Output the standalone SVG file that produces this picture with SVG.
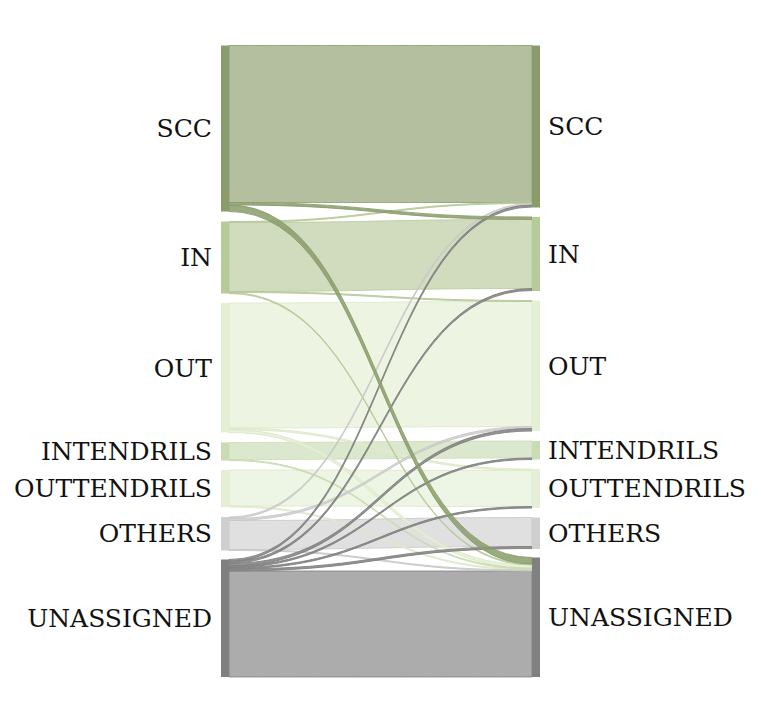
<svg xmlns="http://www.w3.org/2000/svg" width="761" height="723" viewBox="0 0 761 723">
<style>
.lk{fill-opacity:.65;stroke-opacity:.8;stroke-width:1}
.th{fill-opacity:.85;stroke-opacity:.9}
.c-scc{fill:#8a9c6b;stroke:#8a9c6b}
.c-in{fill:#b7ca9a;stroke:#b7ca9a}
.c-out{fill:#e4efd3;stroke:#dbe9c8}
.c-itd{fill:#cadcb3;stroke:#cadcb3}
.c-otd{fill:#e4efd5;stroke:#dbe9c8}
.c-oth{fill:#cfcfcf;stroke:#c8c8c8}
.c-un{fill:#808080;stroke:#808080}
.bar{stroke:none}
.lbl{font-family:"DejaVu Serif","Liberation Serif",serif;font-size:25px;fill:#111}
.l{text-anchor:end}
</style>
<rect width="761" height="723" fill="#fff"/>
<g id="connectors">
<path class="lk c-scc" d="M229,45.5 C380.5,45.5 380.5,45.5 532,45.5 L532,202.5 C380.5,202.5 380.5,202.5 229,202.5 Z"/>
<path class="lk c-in" d="M229,222.5 C380.5,222.5 380.5,219.5 532,219.5 L532,288.5 C380.5,288.5 380.5,291.5 229,291.5 Z"/>
<path class="lk c-out" d="M229,303 C380.5,303 380.5,301.5 532,301.5 L532,426.5 C380.5,426.5 380.5,428 229,428 Z"/>
<path class="lk c-itd" d="M229,442.5 C380.5,442.5 380.5,441 532,441 L532,458 C380.5,458 380.5,459.5 229,459.5 Z"/>
<path class="lk c-otd" d="M229,470 C380.5,470 380.5,470.5 532,470.5 L532,506.5 C380.5,506.5 380.5,506 229,506 Z"/>
<path class="lk c-oth" d="M229,520.5 C380.5,520.5 380.5,517.5 532,517.5 L532,546.5 C380.5,546.5 380.5,549.5 229,549.5 Z"/>
<path class="lk c-un" d="M229,571 C380.5,571 380.5,571 532,571 L532,677 C380.5,677 380.5,677 229,677 Z"/>
<path class="lk th c-out" d="M229,428 C380.5,428 380.5,469 532,469 L532,470.5 C380.5,470.5 380.5,429.5 229,429.5 Z"/>
<path class="lk th c-out" d="M229,429.5 C380.5,429.5 380.5,565 532,565 L532,568 C380.5,568 380.5,432.5 229,432.5 Z"/>
<path class="lk th c-otd" d="M229,506 C380.5,506 380.5,569 532,569 L532,570 C380.5,570 380.5,507 229,507 Z"/>
<path class="lk th c-itd" d="M229,459.5 C380.5,459.5 380.5,568 532,568 L532,569 C380.5,569 380.5,460.5 229,460.5 Z"/>
<path class="lk th c-in" d="M229,221.5 C380.5,221.5 380.5,202.5 532,202.5 L532,203.5 C380.5,203.5 380.5,222.5 229,222.5 Z"/>
<path class="lk th c-in" d="M229,291.5 C380.5,291.5 380.5,300.5 532,300.5 L532,301.5 C380.5,301.5 380.5,292.5 229,292.5 Z"/>
<path class="lk th c-in" d="M229,292.5 C380.5,292.5 380.5,564 532,564 L532,565 C380.5,565 380.5,293.5 229,293.5 Z"/>
<path class="lk th c-oth" d="M229,517 C380.5,517 380.5,203.5 532,203.5 L532,205 C380.5,205 380.5,518.5 229,518.5 Z"/>
<path class="lk th c-oth" d="M229,518.5 C380.5,518.5 380.5,426.5 532,426.5 L532,428.5 C380.5,428.5 380.5,520.5 229,520.5 Z"/>
<path class="lk th c-oth" d="M229,549.5 C380.5,549.5 380.5,570 532,570 L532,571 C380.5,571 380.5,550.5 229,550.5 Z"/>
<path class="lk th c-un" d="M229,559.5 C380.5,559.5 380.5,205 532,205 L532,207 C380.5,207 380.5,561.5 229,561.5 Z"/>
<path class="lk th c-un" d="M229,561.5 C380.5,561.5 380.5,288.5 532,288.5 L532,290.5 C380.5,290.5 380.5,563.5 229,563.5 Z"/>
<path class="lk th c-un" d="M229,563.5 C380.5,563.5 380.5,428.5 532,428.5 L532,431 C380.5,431 380.5,566 229,566 Z"/>
<path class="lk th c-un" d="M229,566 C380.5,566 380.5,458 532,458 L532,459.5 C380.5,459.5 380.5,567.5 229,567.5 Z"/>
<path class="lk th c-un" d="M229,567.5 C380.5,567.5 380.5,506.5 532,506.5 L532,508 C380.5,508 380.5,569 229,569 Z"/>
<path class="lk th c-un" d="M229,569 C380.5,569 380.5,546.5 532,546.5 L532,548.5 C380.5,548.5 380.5,571 229,571 Z"/>
<path class="lk th c-scc" d="M229,202.5 C380.5,202.5 380.5,217 532,217 L532,219.5 C380.5,219.5 380.5,205 229,205 Z"/>
<path class="lk th c-scc" d="M229,205 C380.5,205 380.5,557.5 532,557.5 L532,564 C380.5,564 380.5,211.5 229,211.5 Z"/>
</g>
<g id="node-src-scc"><rect class="bar c-scc" x="221" y="45.5" width="8" height="166"/><text class="lbl l" x="212" y="137">SCC</text></g>
<g id="node-src-in"><rect class="bar c-in" x="221" y="221.5" width="8" height="72"/><text class="lbl l" x="212" y="266">IN</text></g>
<g id="node-src-out"><rect class="bar c-out" x="221" y="303" width="8" height="129.5"/><text class="lbl l" x="212" y="376.5">OUT</text></g>
<g id="node-src-intendrils"><rect class="bar c-itd" x="221" y="442.5" width="8" height="18"/><text class="lbl l" x="212" y="460">INTENDRILS</text></g>
<g id="node-src-outtendrils"><rect class="bar c-otd" x="221" y="470" width="8" height="37"/><text class="lbl l" x="212" y="497">OUTTENDRILS</text></g>
<g id="node-src-others"><rect class="bar c-oth" x="221" y="517" width="8" height="33.5"/><text class="lbl l" x="212" y="542">OTHERS</text></g>
<g id="node-src-unassigned"><rect class="bar c-un" x="221" y="559.5" width="8" height="117.5"/><text class="lbl l" x="212" y="626.5">UNASSIGNED</text></g>
<g id="node-tgt-scc"><rect class="bar c-scc" x="532" y="45.5" width="8" height="162"/><text class="lbl" x="548" y="135">SCC</text></g>
<g id="node-tgt-in"><rect class="bar c-in" x="532" y="217" width="8" height="74"/><text class="lbl" x="548" y="262.5">IN</text></g>
<g id="node-tgt-out"><rect class="bar c-out" x="532" y="300.5" width="8" height="130.5"/><text class="lbl" x="548" y="374.5">OUT</text></g>
<g id="node-tgt-intendrils"><rect class="bar c-itd" x="532" y="441" width="8" height="18.5"/><text class="lbl" x="548" y="458.5">INTENDRILS</text></g>
<g id="node-tgt-outtendrils"><rect class="bar c-otd" x="532" y="469" width="8" height="39"/><text class="lbl" x="548" y="497">OUTTENDRILS</text></g>
<g id="node-tgt-others"><rect class="bar c-oth" x="532" y="517.5" width="8" height="31.5"/><text class="lbl" x="548" y="541.5">OTHERS</text></g>
<g id="node-tgt-unassigned"><rect class="bar c-un" x="532" y="557.5" width="8" height="119.5"/><text class="lbl" x="548" y="625.5">UNASSIGNED</text></g>
</svg>
